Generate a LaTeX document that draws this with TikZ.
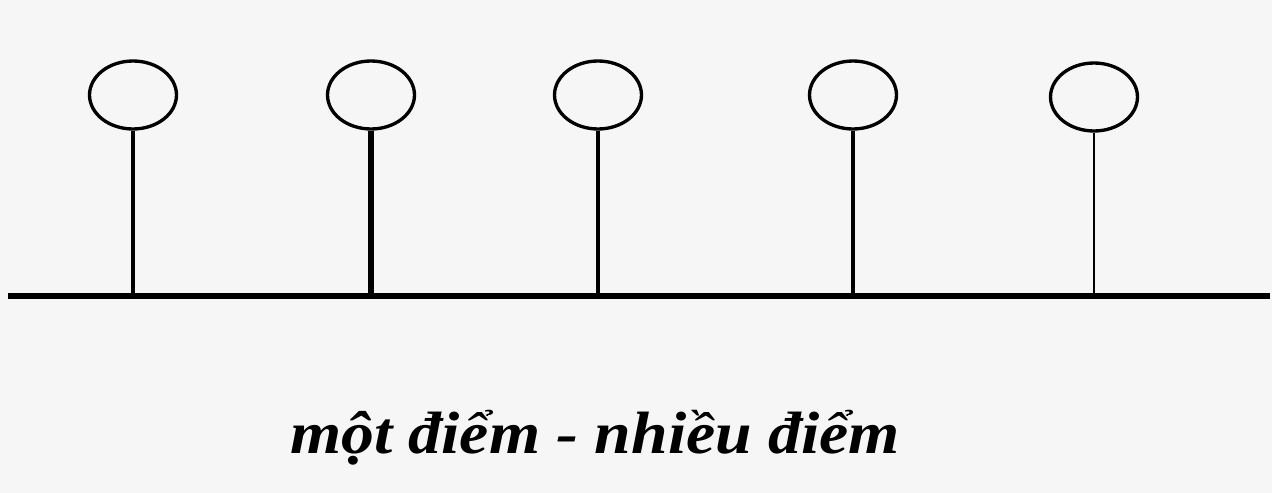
\documentclass[tikz,border=0pt]{standalone}
\usepackage{fontspec}
\setmainfont{Liberation Serif}
\newfontfamily\capfont[FakeStretch=1.1]{Liberation Serif}
\usepackage{tikz}
\usetikzlibrary{positioning,shapes.geometric}
\definecolor{paper}{RGB}{246,246,246}

\begin{document}
\begin{tikzpicture}[x=0.02cm, y=-0.02cm,
    station/.style={draw, ellipse, line width=1.9pt, minimum width=1.74cm, minimum height=1.36cm, inner sep=0pt},
    stem/.style={line width=#1},
    stem/.default=2pt
]
\fill[paper] (0,0) rectangle (1272,493);
\useasboundingbox (0,0) rectangle (1272,493);

% the bus
\coordinate (busL) at (8,296);
\coordinate (busR) at (1270,296);
\draw[line width=3.8pt] (busL) -- (busR);

% stations
\node[station] (st1) at (133,95) {};
\node[station] (st2) at (371,95) {};
\node[station] (st3) at (598,95) {};
\node[station] (st4) at (853,95) {};
\node[station] (st5) at (1094,97) {};

\draw[stem=2.1pt] (st1.south) -- (st1.south |- busL);
\draw[stem=3.2pt] (st2.south) -- (st2.south |- busL);
\draw[stem=2.1pt] (st3.south) -- (st3.south |- busL);
\draw[stem=2.1pt] (st4.south) -- (st4.south |- busL);
\draw[stem=1.3pt] (st5.south) -- (st5.south |- busL);

\node[font=\capfont\fontsize{34}{40}\selectfont\bfseries\itshape] (caption) at (595,438) {một điểm - nhiều điểm};
\end{tikzpicture}
\end{document}
